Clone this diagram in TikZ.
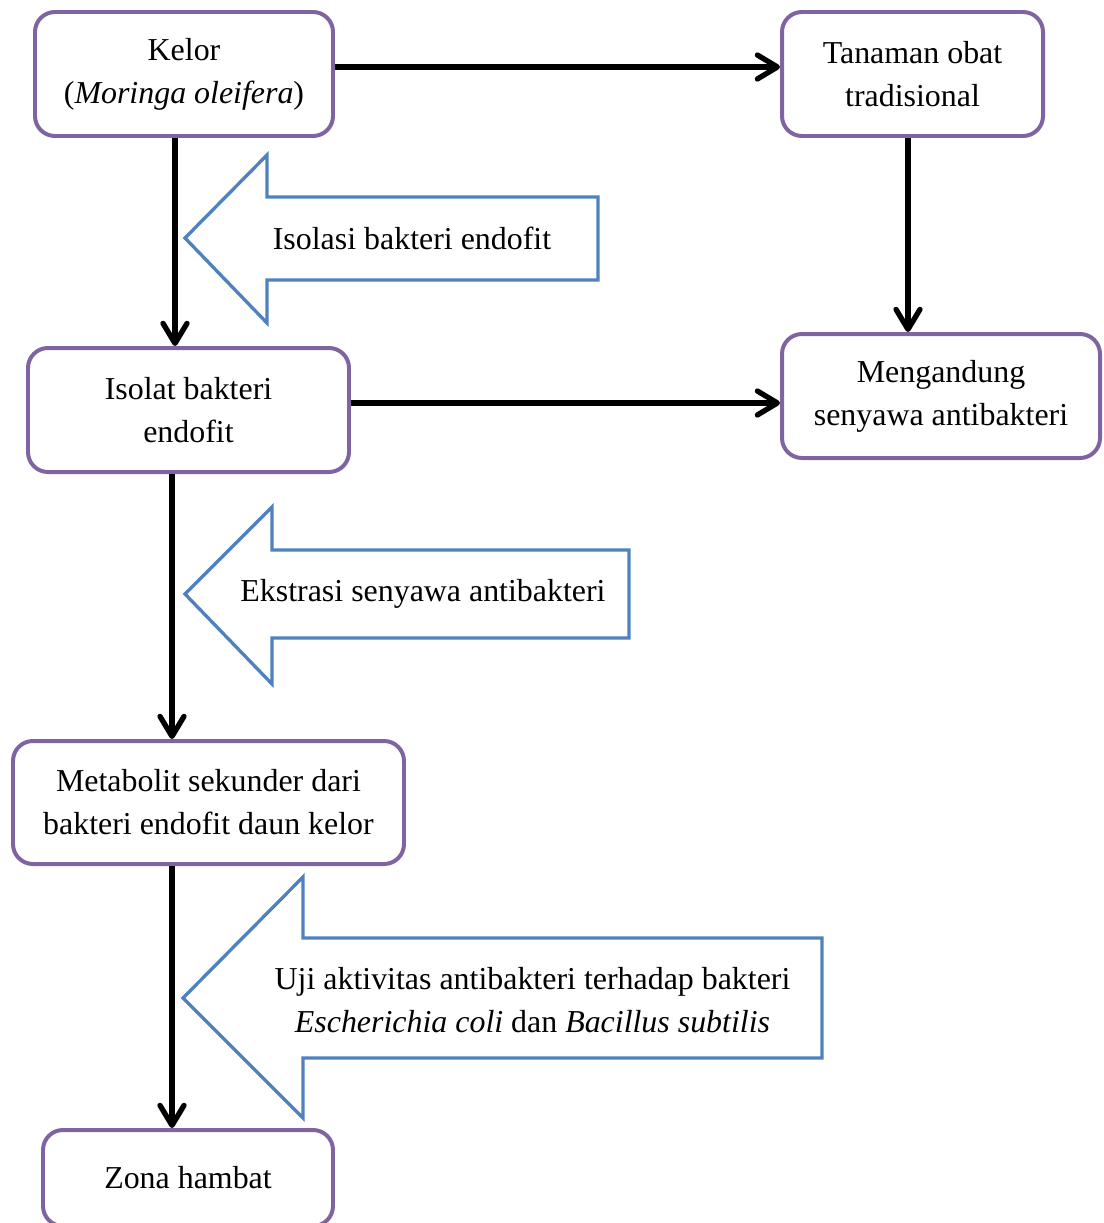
\documentclass[tikz,border=0pt]{standalone}
\usepackage{fontspec}
\setmainfont{Liberation Serif}
\usepackage{tikz}
\usetikzlibrary{arrows.meta}
\definecolor{boxpurple}{HTML}{8064A2}
\definecolor{arrowblue}{HTML}{4F81BD}
\newcommand{\pixel}{0.376pt}
\tikzset{>={Straight Barb[length=7.5pt,width=9pt,round]},main node/.style 2 args={rectangle,rounded corners=7.5pt,draw=boxpurple,line width=1.5pt,minimum width=#1*\pixel,minimum height=#2*\pixel,inner sep=0pt,align=center,font=\fontsize{12}{16.2}\selectfont},edge/.style={line width=2pt,->},block/.style={draw=arrowblue,line width=1.25pt,line join=miter},block text/.style={align=center,font=\fontsize{12}{16.2}\selectfont}}

\begin{document}
\begin{tikzpicture}[x=\pixel,y=-\pixel]
    \clip (0,0) rectangle (1103,1223);
    \node[main node={298}{124}] (v1) at (184,74) {Kelor\\(\textit{Moringa oleifera})};
    \node[main node={261}{124}] (v2) at (912.5,74) {Tanaman obat\\tradisional};
    \node[main node={321}{124}] (v3) at (188.5,410) {Isolat bakteri\\endofit};
    \node[main node={318}{124}] (v4) at (941,396) {Mengandung\\senyawa antibakteri};
    \node[main node={391}{123}] (v5) at (208.5,802.5) {Metabolit sekunder dari\\bakteri endofit daun kelor};
    \node[main node={290}{96}] (v6) at (188,1178) {Zona hambat};
    \draw[edge] ([yshift=7*\pixel]v1.east) -- ([yshift=7*\pixel]v2.west);
    \draw[edge] ([yshift=7*\pixel]v3.east) -- ([yshift=-7*\pixel]v4.west);
    \draw[edge] ([xshift=-9*\pixel]v1.south) -- ([xshift=-9*\pixel]v1.south |- v3.north);
    \draw[edge] ([xshift=-4.5*\pixel]v2.south) -- ([xshift=-4.5*\pixel]v2.south |- v4.north);
    \draw[edge] ([xshift=-16.5*\pixel]v3.south) -- ([xshift=-16.5*\pixel]v3.south |- v5.north);
    \draw[edge] ([xshift=-36.5*\pixel]v5.south) -- ([xshift=-36.5*\pixel]v5.south |- v6.north);
    % block arrows
    \draw[block] (185,238) -- (267,155) -- (267,197) -- (598,197) -- (598,280) -- (267,280) -- (267,323) -- cycle;
    \node[block text] (t1) at (412,238) {Isolasi bakteri endofit};
    \draw[block] (185,594) -- (272,507) -- (272,550) -- (629,550) -- (629,638) -- (272,638) -- (272,684) -- cycle;
    \node[block text] (t2) at (423,594) {Ekstrasi senyawa antibakteri};
    \draw[block] (183,998) -- (303,877) -- (303,938) -- (822,938) -- (822,1058) -- (303,1058) -- (303,1118) -- cycle;
    \node[block text] (t3) at (532.5,1000.5) {Uji aktivitas antibakteri terhadap bakteri\\\textit{Escherichia coli} dan \textit{Bacillus subtilis}};
\end{tikzpicture}
\end{document}
